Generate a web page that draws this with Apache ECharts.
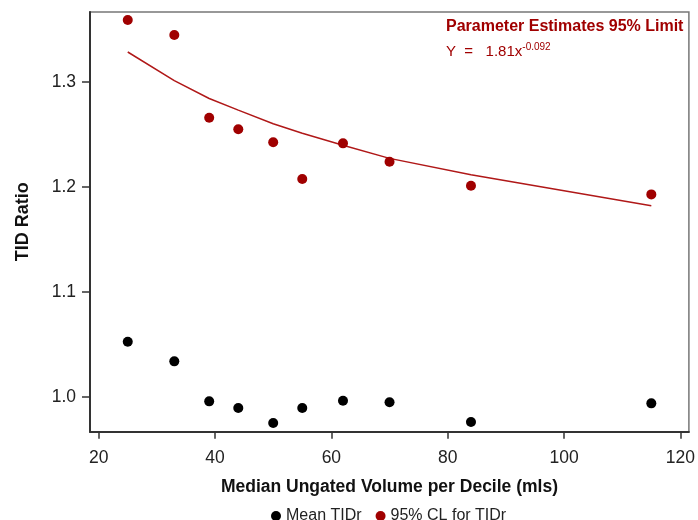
<!DOCTYPE html>
<html>
<head>
<meta charset="utf-8">
<script src="https://cdn.jsdelivr.net/npm/echarts@6/dist/echarts.min.js"></script>
<style>html,body{margin:0;padding:0;background:#fff;}#c{width:698px;height:520px;}</style>
</head>
<body>
<div id="c"></div>
<script>
var volumes = [25, 33, 39, 44, 50, 55, 62, 70, 84, 115];
var meanTIDr = [1.0524, 1.0337, 0.9956, 0.9892, 0.9750, 0.9892, 0.9962, 0.9947, 0.9759, 0.9937];
var cl95TIDr = [1.3588, 1.3445, 1.2657, 1.2547, 1.2423, 1.2073, 1.2413, 1.2238, 1.2010, 1.1927];
var fitLimit = [1.3283, 1.3010, 1.2840, 1.2730, 1.2600, 1.2510, 1.2395, 1.2270, 1.2115, 1.1818];
var xTicks = [20, 40, 60, 80, 100, 120];
var yTicks = [1.0, 1.1, 1.2, 1.3];

function pairs(xs, ys) { return xs.map(function (x, i) { return [x, ys[i]]; }); }

var RED = '#a00000';
var FONT = 'Liberation Sans, Arial, sans-serif';
var chart = echarts.init(document.getElementById('c'));
chart.setOption({
  animation: false,
  backgroundColor: '#fff',
  grid: { left: 90, top: 12, right: 7.5, bottom: 88.3, show: true, borderColor: '#777', borderWidth: 1.5, backgroundColor: 'transparent' },
  xAxis: {
    type: 'value', min: 18.51, max: 121.46,
    name: 'Median Ungated Volume per Decile (mls)', nameLocation: 'middle', nameGap: 46,
    nameTextStyle: { fontFamily: FONT, fontSize: 17.5, fontWeight: 'bold', color: '#111' },
    axisLine: { show: true, onZero: false, lineStyle: { color: '#333', width: 2 } },
    axisTick: { show: true, length: 7, customValues: xTicks, lineStyle: { color: '#333', width: 1.5 } },
    axisLabel: { customValues: xTicks, fontFamily: FONT, fontSize: 17.5, color: '#222', margin: 17 },
    splitLine: { show: false }
  },
  yAxis: {
    type: 'value', min: 0.9667, max: 1.3664,
    name: 'TID Ratio', nameLocation: 'middle', nameGap: 58, nameRotate: 90,
    nameTextStyle: { fontFamily: FONT, fontSize: 18, fontWeight: 'bold', color: '#111' },
    axisLine: { show: true, onZero: false, lineStyle: { color: '#333', width: 2 } },
    axisTick: { show: true, length: 8, customValues: yTicks, lineStyle: { color: '#333', width: 1.5 } },
    axisLabel: { customValues: yTicks, fontFamily: FONT, fontSize: 17.5, color: '#222', margin: 14,
      formatter: function (v) { return v.toFixed(1); } },
    splitLine: { show: false }
  },
  legend: {
    data: ['Mean TIDr', '95% CL for TIDr'],
    left: 266, top: 503, itemWidth: 10, itemHeight: 10, itemGap: 14, icon: 'circle',
    textStyle: { fontFamily: FONT, fontSize: 16, color: '#222' }
  },
  series: [
    { name: 'Fit', type: 'line', data: pairs(volumes, fitLimit), showSymbol: false, symbol: 'none',
      lineStyle: { color: '#b01818', width: 1.5 }, z: 1, silent: true },
    { name: 'Mean TIDr', type: 'scatter', data: pairs(volumes, meanTIDr), symbol: 'circle', symbolSize: 10,
      itemStyle: { color: '#000', opacity: 1 }, z: 3 },
    { name: '95% CL for TIDr', type: 'scatter', data: pairs(volumes, cl95TIDr), symbol: 'circle', symbolSize: 10,
      itemStyle: { color: RED, opacity: 1 }, z: 3 }
  ],
  graphic: [
    { type: 'text', left: 446, top: 19, z: 10,
      style: { text: 'Parameter Estimates 95% Limit', fontFamily: FONT, fontSize: 16, fontWeight: 'bold', fill: RED } },
    { type: 'text', left: 446, top: 41, z: 10,
      style: { text: '{a|Y  =   1.81x}{s|-0.092}', fontFamily: FONT, fill: RED,
        rich: { a: { fontFamily: FONT, fontSize: 15, fill: RED, color: RED, lineHeight: 18, verticalAlign: 'bottom' },
                s: { fontFamily: FONT, fontSize: 10, fill: RED, color: RED, lineHeight: 18, verticalAlign: 'top', padding: [1, 0, 0, 0] } } } }
  ]
});
</script>
</body>
</html>
